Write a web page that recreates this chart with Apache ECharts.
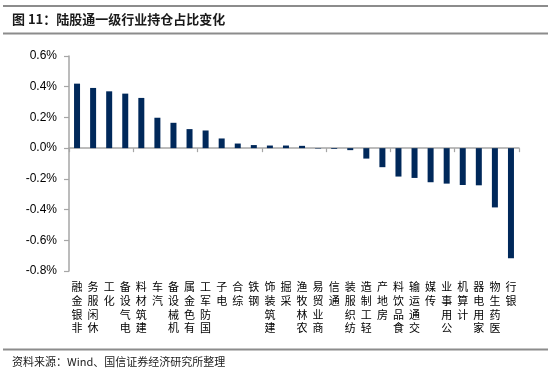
<!DOCTYPE html>
<html>
<head>
<meta charset="utf-8">
<script src="https://cdn.jsdelivr.net/npm/echarts@6/dist/echarts.min.js"></script>
<style>
html,body{margin:0;padding:0;background:#fff;}
#chart{width:550px;height:374px;}
</style>
</head>
<body>
<div id="chart"></div>
<script>
const titleText = '图 11：陆股通一级行业持仓占比变化';
const sourceText = '资料来源：Wind、国信证券经济研究所整理';
const categories = ['非银金融','休闲服务','化工','电气设备','建筑材料','汽车','机械设备','有色金属','国防军工','电子','综合','钢铁','建筑装饰','采掘','农林牧渔','商业贸易','通信','纺织服装','轻工制造','房地产','食品饮料','交通运输','传媒','公用事业','计算机','家用电器','医药生物','银行'];
const values = [0.42,0.392,0.37,0.355,0.327,0.198,0.165,0.124,0.115,0.063,0.03,0.02,0.017,0.017,0.015,-0.003,-0.005,-0.013,-0.068,-0.124,-0.185,-0.194,-0.222,-0.231,-0.24,-0.242,-0.386,-0.717];
const yMin = -0.8, yMax = 0.6, yStep = 0.2;

const chart = echarts.init(document.getElementById('chart'), null, {renderer:'canvas'});
const axisGray = '#a6a6a6';
const option = {
  animation: false,
  backgroundColor: '#fff',
  grid: {left: 69, right: 31, top: 56, bottom: 103, containLabel: false},
  graphic: [
    {type:'rect', shape:{x:3, y:5, width:545, height:2}, style:{fill:'#8c8c8c'}},
    {type:'text', left:12, top:13, style:{text:titleText, font:'bold 13px "Noto Sans CJK SC", sans-serif', fill:'#1a1a1a'}},
    {type:'rect', shape:{x:3, y:32.5, width:545, height:2}, style:{fill:'#8c8c8c'}},
    {type:'rect', shape:{x:3, y:348.5, width:545, height:2}, style:{fill:'#8c8c8c'}},
    {type:'text', left:12, top:356, style:{text:sourceText, font:'11px "Noto Sans CJK SC", sans-serif', fill:'#1a1a1a'}}
  ],
  xAxis: [
    {
      type: 'category', data: categories, position: 'bottom',
      axisLine: {show: false, onZero: false},
      axisTick: {show: false},
      axisLabel: {
        interval: 0, margin: 9, fontSize: 11, lineHeight: 13.75,
        fontFamily: '"Noto Sans CJK SC", sans-serif', color: '#000',
        verticalAlign: 'top', align: 'center',
        formatter: v => v.split('').reverse().join('\n')
      }
    },
    {
      type: 'category', data: categories, position: 'bottom',
      axisLine: {show: true, onZero: true, lineStyle: {color: axisGray, width: 1.5}},
      axisTick: {show: true, length: 4, lineStyle: {color: axisGray, width: 1.2}},
      axisLabel: {show: false}
    }
  ],
  yAxis: {
    type: 'value', min: yMin, max: yMax, interval: yStep,
    axisLine: {show: true, lineStyle: {color: axisGray, width: 1.5}},
    axisTick: {show: true, length: 5, lineStyle: {color: axisGray, width: 1.2}},
    splitLine: {show: false},
    axisLabel: {
      margin: 12, fontSize: 12, color: '#000',
      fontFamily: '"Liberation Sans", Arial, sans-serif',
      formatter: v => { let r = Math.round(v*10)/10; if (Math.abs(r) < 1e-9) r = 0; return r.toFixed(1) + '%'; }
    }
  },
  series: [{
    type: 'bar', xAxisIndex: 0, data: values, barWidth: 6,
    itemStyle: {color: '#00285A'}
  }]
};
chart.setOption(option);
</script>
</body>
</html>
